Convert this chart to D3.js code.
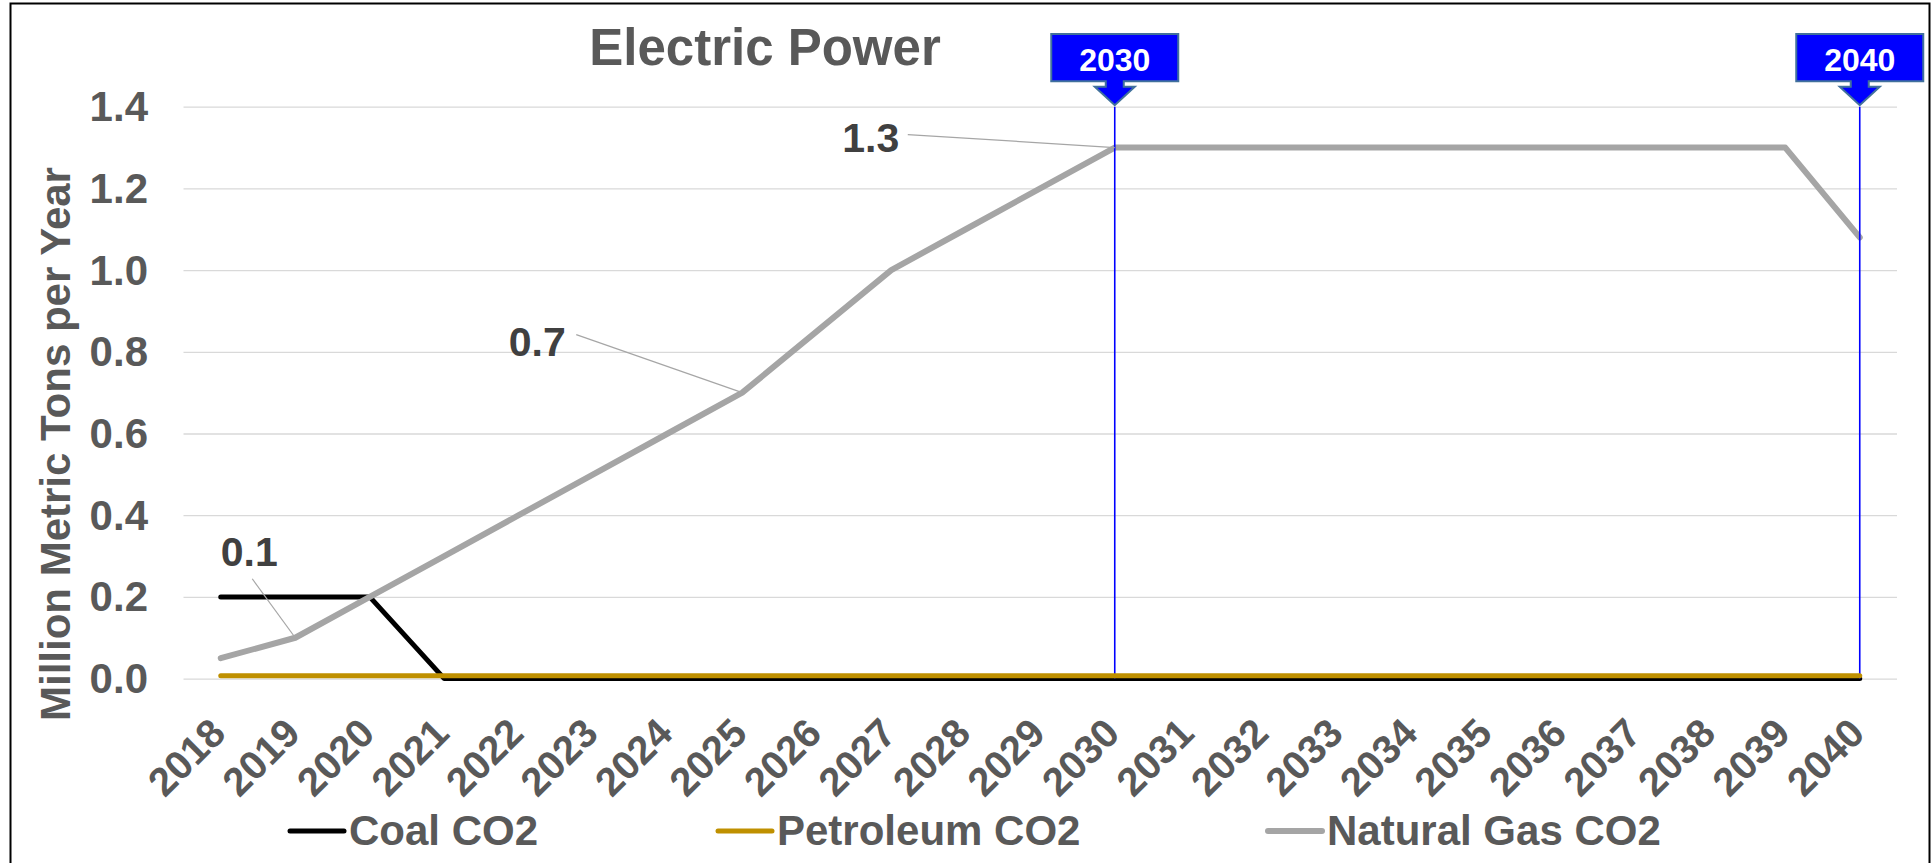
<!DOCTYPE html>
<html>
<head>
<meta charset="utf-8">
<script src="https://cdn.jsdelivr.net/npm/d3@7/dist/d3.min.js"></script>
<style>
html,body{margin:0;padding:0;background:#fff;}
svg{display:block;}
text{font-family:"Liberation Sans",Arial,sans-serif;font-weight:bold;}
</style>
</head>
<body>
<svg id="chart" width="1931" height="863"></svg>
<script>
const categories = ["2018","2019","2020","2021","2022","2023","2024","2025","2026","2027","2028","2029","2030","2031","2032","2033","2034","2035","2036","2037","2038","2039","2040"];
const coalCO2 = [0.2,0.2,0.2,0,0,0,0,0,0,0,0,0,0,0,0,0,0,0,0,0,0,0,0];
const petroleumCO2 = [0.007,0.007,0.007,0.007,0.007,0.007,0.007,0.007,0.007,0.007,0.007,0.007,0.007,0.007,0.007,0.007,0.007,0.007,0.007,0.007,0.007,0.007,0.007];
const naturalGasCO2 = [0.05,0.1,0.2,0.3,0.4,0.5,0.6,0.7,0.85,1.0,1.1,1.2,1.3,1.3,1.3,1.3,1.3,1.3,1.3,1.3,1.3,1.3,1.08];
const yTicks = [0,0.2,0.4,0.6,0.8,1.0,1.2,1.4];
const seriesNames = ["Coal CO2","Petroleum CO2","Natural Gas CO2"];
const markerYears = ["2030","2040"];
const labelYears = ["2019","2025","2030"];

const svg = d3.select("#chart");
const x = d3.scaleBand().domain(categories).range([183.5, 1897]);
const y = d3.scaleLinear().domain([0, 1.4]).range([678.6, 106.7]);
const xc = c => x(c) + x.bandwidth() / 2;

// outer frame
svg.append("rect").attr("x", 10.5).attr("y", 3.5).attr("width", 1919).attr("height", 880)
  .attr("fill", "none").attr("stroke", "#000").attr("stroke-width", 2);

// title
svg.append("text").attr("x", 765).attr("y", 65).attr("text-anchor", "middle")
  .attr("font-size", 51).attr("fill", "#595959").text("Electric Power");

// gridlines + y tick labels via axis
const yAxis = d3.axisLeft(y).tickValues(yTicks).tickFormat(d3.format(".1f"))
  .tickSize(-(1897 - 183.5)).tickPadding(36);
const gy = svg.append("g").attr("transform", "translate(183.5,0)").call(yAxis);
gy.select(".domain").remove();
gy.selectAll(".tick line").attr("stroke", "#D9D9D9").attr("stroke-width", 1.3);
gy.selectAll(".tick text").attr("font-size", 42).attr("fill", "#595959")
  .attr("font-family", "Liberation Sans, Arial, sans-serif").attr("font-weight", "bold")
  .attr("dy", 14).attr("x", 148 - 183.5);

// y axis title
svg.append("text").attr("transform", "translate(70,444) rotate(-90)").attr("text-anchor", "middle")
  .attr("font-size", 42).attr("fill", "#595959").text("Million Metric Tons per Year");

// x tick labels
const xAxis = d3.axisBottom(x).tickSize(0).tickPadding(0);
const gx = svg.append("g").attr("transform", "translate(0,678.6)").call(xAxis);
gx.select(".domain").remove();
gx.selectAll(".tick text").attr("font-size", 40).attr("fill", "#595959")
  .attr("font-family", "Liberation Sans, Arial, sans-serif").attr("font-weight", "bold")
  .attr("text-anchor", "end").attr("dy", null).attr("y", null)
  .attr("transform", "translate(7,57) rotate(-45)");

const line = d3.line().x((d, i) => xc(categories[i])).y(d => y(d));

// coal
svg.append("path").datum(coalCO2).attr("d", line).attr("fill", "none")
  .attr("stroke", "#000000").attr("stroke-width", 5).attr("stroke-linecap", "round").attr("stroke-linejoin", "round");
// natural gas
svg.append("path").datum(naturalGasCO2).attr("d", line).attr("fill", "none")
  .attr("stroke", "#A5A5A5").attr("stroke-width", 6).attr("stroke-linecap", "round").attr("stroke-linejoin", "round");

// vertical marker lines and callouts
markerYears.forEach(yr => {
  const cx = xc(yr);
  svg.append("line").attr("x1", cx).attr("x2", cx).attr("y1", y(1.4)).attr("y2", y(0))
    .attr("stroke", "#0000FF").attr("stroke-width", 1.6);
  const top = 34, bot = 81.3, w = 127, sw = 9, hw = 20, neck = 86.7, tip = y(1.4) - 1.5;
  const pts = [
    [cx - w/2, top], [cx + w/2, top], [cx + w/2, bot], [cx + sw, bot], [cx + sw, neck],
    [cx + hw, neck], [cx, tip], [cx - hw, neck], [cx - sw, neck], [cx - sw, bot], [cx - w/2, bot]
  ];
  svg.append("path").attr("d", "M" + pts.map(p => p.join(",")).join("L") + "Z")
    .attr("fill", "#0000FF").attr("stroke", "#41719C").attr("stroke-width", 2).attr("stroke-linejoin", "miter");
  svg.append("text").attr("x", cx).attr("y", 70.5).attr("text-anchor", "middle")
    .attr("font-size", 32).attr("fill", "#FFFFFF").text(yr);
});

// petroleum
svg.append("path").datum(petroleumCO2).attr("d", line).attr("fill", "none")
  .attr("stroke", "#BF9000").attr("stroke-width", 5).attr("stroke-linecap", "round").attr("stroke-linejoin", "round");

// data labels with leader lines (natural gas)
const labelOffsets = {"2019": {tx: -46, ty: -72, lx: -43, ly: -59},
                      "2025": {tx: -205, ty: -37, lx: -166, ly: -58},
                      "2030": {tx: -244, ty: 4, lx: -207, ly: -13}};
labelYears.forEach(yr => {
  const i = categories.indexOf(yr);
  const px = xc(yr), py = y(naturalGasCO2[i]);
  const o = labelOffsets[yr];
  svg.append("line").attr("x1", px + o.lx).attr("y1", py + o.ly).attr("x2", px).attr("y2", py)
    .attr("stroke", "#A6A6A6").attr("stroke-width", 1.2);
  svg.append("text").attr("x", px + o.tx).attr("y", py + o.ty).attr("text-anchor", "middle")
    .attr("font-size", 41).attr("fill", "#404040").text(d3.format(".1f")(naturalGasCO2[i]));
});

// legend
const legendColors = ["#000000", "#BF9000", "#A5A5A5"];
const legendWidths = [5, 5, 6];
const legendX = [290, 718, 1268];
seriesNames.forEach((n, i) => {
  svg.append("line").attr("x1", legendX[i]).attr("x2", legendX[i] + 54).attr("y1", 831).attr("y2", 831)
    .attr("stroke", legendColors[i]).attr("stroke-width", legendWidths[i]).attr("stroke-linecap", "round");
  svg.append("text").attr("x", legendX[i] + 59).attr("y", 845).attr("font-size", 42)
    .attr("fill", "#595959").text(n);
});
</script>
</body>
</html>
